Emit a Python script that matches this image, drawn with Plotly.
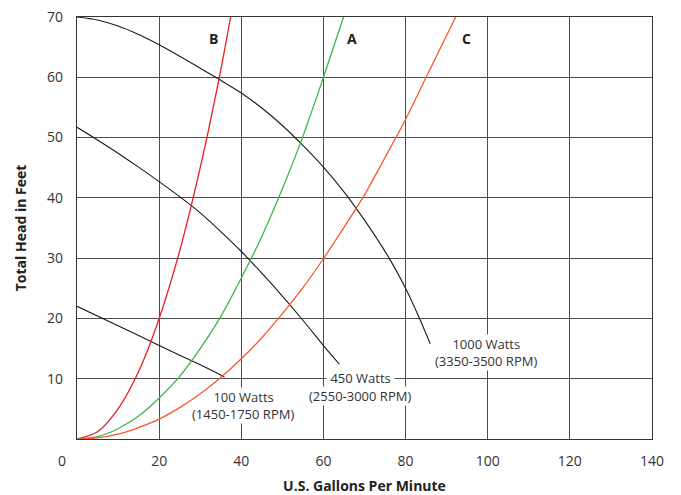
import plotly.graph_objects as go

# System curves (flow in GPM vs head in feet)
b_x = [0, 5, 10, 15, 20, 25, 30, 35, 37.4]
b_y = [0, 1.2, 5, 11.2, 20, 31.2, 45, 61.2, 70]

a_x = [0, 5, 10, 15, 20, 25, 30, 35, 40, 45, 50, 55, 60, 64.9]
a_y = [0, 0.4, 1.7, 3.8, 6.8, 10.4, 15.0, 20.3, 26.7, 33.6, 41.5, 50.2, 60, 70]

c_x = [0, 5, 10, 15, 20, 25, 30, 35, 40, 45, 50, 55, 60, 65, 70, 75, 80, 85, 92.2]
c_y = [0, 0.2, 0.8, 1.9, 3.3, 5.2, 7.5, 10.2, 13.3, 16.8, 20.8, 25.1, 29.9,
       35.1, 40.5, 46.7, 53.0, 60.0, 70]

# Pump curves
w1000_x = [0, 5, 10, 15, 20, 25, 30, 35, 40, 45, 50, 55, 60, 65, 70, 76, 80, 83, 86]
w1000_y = [70, 69.5, 68.5, 67.1, 65.4, 63.5, 61.5, 59.5, 57.4, 54.9, 52.0, 48.7,
           45.1, 41.0, 36.3, 30.0, 25.0, 20.6, 15.8]

w450_x = [0, 5, 10, 15, 20, 25, 30, 35, 40, 45, 50, 55, 60, 63.9]
w450_y = [51.7, 49.6, 47.4, 45.1, 42.7, 40.2, 37.5, 34.4, 31.1, 27.5, 23.7, 19.7,
          15.5, 12.4]

w100_x = [0, 10, 20, 30, 35.9]
w100_y = [22, 18.8, 15.5, 12.3, 10.3]

x_ticks = [20, 40, 60, 80, 100, 120, 140]
y_ticks = [10, 20, 30, 40, 50, 60, 70]

curve_labels = ["B", "A", "C"]
curve_label_x = [33.2, 67.0, 94.8]

pump_labels = [("100 Watts", "(1450-1750 RPM)"),
               ("450 Watts", "(2550-3000 RPM)"),
               ("1000 Watts", "(3350-3500 RPM)")]
pump_label_x = [40.5, 69.0, 99.6]
pump_label_y1 = [7.0, 10.15, 15.8]
pump_label_y2 = [4.1, 7.1, 12.9]

FONT = "Open Sans"
TXT = "#333333"

fig = go.Figure()

def add_line(x, y, color, width=1.3):
    fig.add_trace(go.Scatter(x=x, y=y, mode="lines",
                             line=dict(color=color, width=width, shape="spline", smoothing=0.8),
                             hoverinfo="skip", showlegend=False))

add_line(w1000_x, w1000_y, "#1a1a1a", 1.1)
add_line(w450_x, w450_y, "#1a1a1a", 1.1)
add_line(w100_x, w100_y, "#1a1a1a", 1.1)
add_line(b_x, b_y, "#ec1c24")
add_line(a_x, a_y, "#3ab54a")
add_line(c_x, c_y, "#f7582a")

for lbl, lx in zip(curve_labels, curve_label_x):
    fig.add_annotation(x=lx, y=66.5, text="<b>%s</b>" % lbl, showarrow=False,
                       font=dict(family=FONT, size=14, color="#222222"))

for (t1, t2), lx, y1, y2 in zip(pump_labels, pump_label_x, pump_label_y1, pump_label_y2):
    fig.add_annotation(x=lx, y=y2, text=t2, showarrow=False, bgcolor="white",
                       borderpad=0, font=dict(family=FONT, size=13, color=TXT))
    fig.add_annotation(x=lx, y=y1, text="&nbsp;" + t1 + "&nbsp;", showarrow=False,
                       bgcolor="white", borderpad=0,
                       font=dict(family=FONT, size=13, color=TXT))

# corner "0" label
fig.add_annotation(x=0, y=0, text="0", showarrow=False, xshift=-15, yshift=-21,
                   font=dict(family=FONT, size=14, color=TXT))

fig.update_layout(
    width=681, height=495,
    margin=dict(l=77, r=29, t=17, b=56),
    plot_bgcolor="white", paper_bgcolor="white",
    font=dict(family=FONT, size=14, color=TXT),
    showlegend=False,
    xaxis=dict(range=[0, 140], tickvals=x_ticks, showgrid=True, gridcolor="#4d4d4d",
               gridwidth=1.2, zeroline=False, showline=True, linecolor="#333333",
               linewidth=1.3, mirror=True, ticks="outside", ticklen=9,
               tickcolor="rgba(0,0,0,0)", tickfont=dict(size=14, color=TXT),
               automargin=False,
               title=dict(text="<b>U.S. Gallons Per Minute</b>", standoff=16,
                          font=dict(size=14, color="#222222"))),
    yaxis=dict(range=[0, 70], tickvals=y_ticks, showgrid=True, gridcolor="#4d4d4d",
               gridwidth=1.2, zeroline=False, showline=True, linecolor="#333333",
               linewidth=1.3, mirror=True, ticks="outside", ticklen=10,
               tickcolor="rgba(0,0,0,0)", tickfont=dict(size=14, color=TXT),
               automargin=False,
               title=dict(text="<b>Total Head in Feet</b>", standoff=17,
                          font=dict(size=14, color="#222222"))),
)

fig.write_html("out.html", config={"displayModeBar": False},
               post_script="document.body.style.margin='0px';")
